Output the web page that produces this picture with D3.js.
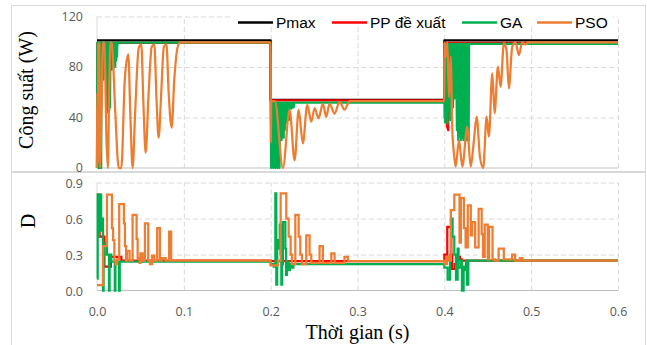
<!DOCTYPE html>
<html>
<head>
<meta charset="utf-8">
<script src="https://cdn.jsdelivr.net/npm/d3@7"></script>
<style>
  body { margin: 0; background: #fff; }
  svg { display: block; }
</style>
</head>
<body>
<svg id="draw-here"></svg>
<script>
// axis ticks
const timeTicks = [0, 0.1, 0.2, 0.3, 0.4, 0.5, 0.6];
const powerTicks = [0, 40, 80, 120];
const dutyTicks = [0, 0.3, 0.6, 0.9];
const seriesNames = ['Pmax', 'PP đề xuất', 'GA', 'PSO'];
const seriesColors = ['#000000', '#ff0000', '#00b050', '#ed7d31'];

// power (W) vs time (s)
const pmaxP = [[0,101],[0.2,101],[0.2,54],[0.4,54],[0.4,101],[0.6,101]];

const ppP = [[0,0],[0.0005,99.2],[0.003,99.2],[0.0035,30],[0.004,99.2],[0.2,99.2],
  [0.2,53.5],[0.2015,53.5],[0.202,34],[0.2025,53.5],[0.4,53.5],
  [0.4,99.2],[0.4005,40],[0.401,99.2],[0.4025,99.2],[0.403,33],[0.4045,30],[0.405,99.2],
  [0.408,99.2],[0.4085,70],[0.409,99.2],[0.6,99.2]];

const gaP = [[0,0],[0.0004,99.3],[0.0008,2],[0.0012,99.3],[0.0016,0],[0.002,99.3],[0.0024,3],
  [0.0028,99.3],[0.0032,0],[0.0036,99.3],[0.004,5],[0.0044,99.3],[0.0048,0],[0.0052,99.3],
  [0.007,99.3],[0.0075,70],[0.008,99.3],[0.0105,99.3],[0.011,45],[0.0115,99.3],[0.012,44],
  [0.0125,99.3],[0.013,46],[0.0135,99.3],[0.014,45],[0.0145,99.3],[0.015,48],[0.0155,99.3],
  [0.016,80],[0.0165,99.3],[0.017,78],[0.0175,99.3],[0.018,80],[0.0185,99.3],[0.019,79],
  [0.0195,99.3],[0.02,82],[0.0205,99.3],[0.021,80],[0.0215,99.3],[0.022,85],[0.0225,99.3],
  [0.023,88],[0.0235,99.3],[0.2,99.3],
  [0.2,51.8],[0.2006,0],[0.2012,51.8],[0.2018,2],[0.2024,51.8],[0.203,0],[0.2036,51.8],
  [0.2042,4],[0.2048,51.8],[0.2054,0],[0.206,51.8],[0.2066,3],[0.2072,51.8],[0.2078,0],
  [0.2084,51.8],[0.209,2],[0.2096,51.8],[0.2102,0],[0.2108,51.8],[0.2114,25],[0.212,51.8],
  [0.2126,22],[0.2132,51.8],[0.2138,28],[0.2144,51.8],[0.215,24],[0.2156,51.8],[0.2162,30],
  [0.2168,51.8],[0.2174,38],[0.218,51.8],[0.2186,36],[0.2192,51.8],[0.2198,40],[0.2204,51.8],
  [0.221,38],[0.2216,51.8],[0.2235,51.8],[0.224,47],[0.2245,51.8],[0.226,51.8],[0.2265,48],
  [0.227,51.8],[0.4,51.8],
  [0.4,98.3],[0.4008,36],[0.4015,98.3],[0.4022,40],[0.403,98.3],[0.4037,35],[0.4045,98.3],
  [0.4053,45],[0.406,98.3],[0.4068,38],[0.4076,98.3],[0.4085,50],[0.4093,98.3],[0.41,48],
  [0.4108,98.3],[0.4116,55],[0.4124,98.3],[0.4135,98.3],[0.4145,30],[0.4152,98.3],[0.416,22],
  [0.4167,98.3],[0.4175,25],[0.4182,98.3],[0.419,22],[0.4197,98.3],[0.4205,24],[0.4212,98.3],
  [0.422,22],[0.4227,98.3],[0.4235,23],[0.4242,98.3],[0.425,22],[0.4257,98.3],[0.4265,22],
  [0.4272,98.3],[0.428,22],[0.4285,98.3],[0.6,98.3]];

// PSO power is drawn smooth, so no two points share a time
const psoP = [[0,0],[0.0005,60],[0.001,3],[0.0015,99.5],[0.002,8],[0.0028,99.5],[0.0035,0],
  [0.005,40],[0.007,99.5],[0.0085,99],[0.011,20],[0.0125,0],[0.014,60],[0.0155,99.5],
  [0.017,99],[0.021,45],[0.025,0],[0.028,0],[0.032,70],[0.036,90],[0.0385,40],[0.041,0],
  [0.044,45],[0.048,95],[0.051,98],[0.0535,50],[0.056,12],[0.0595,60],[0.063,96],[0.066,98],
  [0.0685,55],[0.071,24],[0.074,60],[0.077,96],[0.08,98],[0.0825,60],[0.086,32],[0.089,70],
  [0.093,96],[0.096,99.5],[0.2,99.5],
  [0.2002,20],[0.2007,53],[0.2048,53],[0.2141,0],[0.2218,46],[0.2276,6],[0.2322,46],[0.2371,19.5],
  [0.2421,50],[0.2468,36.7],[0.2506,47.5],[0.2552,39.3],[0.2601,51],[0.264,40.5],[0.2678,51],
  [0.2736,43],[0.2793,52.4],[0.2851,46.3],[0.291,53],[0.4,53],
  [0.4002,99.5],[0.4016,88],[0.4034,99.5],[0.4054,56],[0.4073,88],[0.4092,30],[0.411,12],
  [0.413,1],[0.4169,22],[0.4207,1],[0.4264,32.7],[0.4303,1],[0.4341,22],[0.4372,40.6],
  [0.441,9],[0.4448,0],[0.4487,40.6],[0.4513,24.8],[0.4552,75],[0.4579,43.3],[0.4617,80.3],
  [0.4648,64.4],[0.4686,99],[0.4716,93.5],[0.4743,63],[0.4782,96],[0.482,99.5],[0.4858,89.5],
  [0.4897,99.5],[0.4935,98],[0.497,99.5],[0.6,99.5]];

// duty cycle D vs time (s), each value held until the next point
const ppD = [[0,0.8],[0.003,0.45],[0.0085,0.2],[0.016,0.28],[0.028,0.25],[0.2,0.245],
  [0.4,0.3],[0.4034,0.53],[0.408,0.3],[0.409,0.18],[0.412,0.22],[0.4144,0.28],[0.418,0.26],
  [0.42,0.25],[0.6,0.25]];

const gaD = [[0,0.1],[0.0008,0.8],[0.0015,0.45],[0.0022,0.8],[0.003,0.6],[0.0038,0.8],
  [0.0048,0.5],[0.0062,0.6],[0.0069,0],[0.0076,0.3],[0.0085,0.38],[0.01,0.4],[0.0115,0.3],
  [0.0138,0],[0.0145,0.3],[0.0165,0.24],[0.0205,0],[0.0212,0.24],[0.0255,0],[0.0262,0.24],
  [0.2,0.22],[0.2035,0.2],[0.2054,0.81],[0.2065,0.05],[0.2075,0.42],[0.209,0.35],[0.2105,0.55],
  [0.2115,0.3],[0.2123,0.05],[0.2132,0.22],[0.2141,0.57],[0.2169,0.35],[0.2178,0.13],
  [0.2188,0.24],[0.2205,0.17],[0.2222,0.22],[0.2245,0.19],[0.2262,0.22],
  [0.4,0.19],[0.4038,0.09],[0.4065,0.3],[0.4077,0.6],[0.4095,0.45],[0.4115,0.3],[0.4134,0.09],
  [0.4153,0.35],[0.4164,0.19],[0.4192,0.25],[0.4203,0],[0.4222,0.2],[0.423,0.17],[0.425,0.25],
  [0.4261,0.05],[0.4276,0.25],[0.6,0.25]];

const psoD = [[0,0.045],[0.007,0.37],[0.0115,0.8],[0.0172,0.52],[0.0185,0.42],[0.02,0.25],
  [0.0215,0.22],[0.0232,0.26],[0.0256,0.72],[0.031,0.56],[0.0322,0.37],[0.0335,0.25],
  [0.0345,0.33],[0.0375,0.25],[0.041,0.63],[0.0456,0.43],[0.0468,0.27],[0.049,0.23],
  [0.05,0.31],[0.0525,0.25],[0.0552,0.56],[0.059,0.25],[0.061,0.22],[0.0635,0.29],[0.066,0.25],
  [0.0693,0.52],[0.0724,0.25],[0.0745,0.27],[0.079,0.25],[0.0831,0.49],[0.0854,0.25],
  [0.2,0.21],[0.2085,0.25],[0.2115,0.81],[0.218,0.6],[0.2207,0.45],[0.223,0.3],[0.2245,0.22],
  [0.2284,0.63],[0.2322,0.45],[0.2341,0.3],[0.236,0.22],[0.241,0.46],[0.2448,0.3],[0.2468,0.23],
  [0.2563,0.37],[0.2601,0.23],[0.2698,0.31],[0.2736,0.23],[0.285,0.28],[0.2889,0.245],
  [0.4,0.25],[0.4005,0.22],[0.403,0.28],[0.405,0.25],[0.4075,0.67],[0.4115,0.8],[0.4175,0.4],
  [0.419,0.77],[0.4225,0.52],[0.4245,0.36],[0.427,0.71],[0.4305,0.46],[0.432,0.57],
  [0.4355,0.36],[0.4395,0.68],[0.443,0.47],[0.4445,0.28],[0.4465,0.55],[0.45,0.26],
  [0.4515,0.53],[0.4555,0.26],[0.4585,0.25],[0.4625,0.35],[0.4685,0.26],[0.478,0.3],
  [0.4815,0.25],[0.487,0.27],[0.49,0.25],[0.6,0.25]];

let svg = d3.select('#draw-here')
  .attr('width', 647)
  .attr('height', 345);

// panel frames
svg.append('rect').attr('x', 11.5).attr('y', 5.5).attr('width', 634).attr('height', 166)
  .attr('fill', 'none').attr('stroke', '#d9d9d9');
svg.append('rect').attr('x', 11.5).attr('y', 172.5).attr('width', 634).attr('height', 200)
  .attr('fill', 'none').attr('stroke', '#d9d9d9');

let x = d3.scaleLinear().domain([0, 0.6]).range([97, 618]);
let yP = d3.scaleLinear().domain([0, 120]).range([168, 16.5]);
let yD = d3.scaleLinear().domain([0, 0.9]).range([290.5, 182.5]);

function grid(yScale, yTicks) {
  let top = yScale.range()[1], bottom = yScale.range()[0];
  let gx = svg.append('g')
    .attr('transform', 'translate(0,' + bottom + ')')
    .call(d3.axisBottom(x).tickValues(timeTicks.slice(1)).tickSize(-(bottom - top)).tickFormat(''));
  let gy = svg.append('g')
    .attr('transform', 'translate(' + x(0) + ',0)')
    .call(d3.axisLeft(yScale).tickValues(yTicks.slice(1)).tickSize(-(x(0.6) - x(0))).tickFormat(''));
  [gx, gy].forEach(g => {
    g.select('.domain').remove();
    g.selectAll('line').attr('stroke', '#d9d9d9').attr('stroke-dasharray', '5,3');
  });
  // solid axis lines
  svg.append('line').attr('x1', x(0)).attr('x2', x(0)).attr('y1', top).attr('y2', bottom)
    .attr('stroke', '#d9d9d9');
  svg.append('line').attr('x1', x(0)).attr('x2', x(0.6)).attr('y1', bottom).attr('y2', bottom)
    .attr('stroke', '#bfbfbf');
}
grid(yP, powerTicks);
grid(yD, dutyTicks);

function tickLabels(g) {
  g.select('.domain').remove();
  g.selectAll('text')
    .attr('fill', '#595959')
    .style('font-family', '"Open Sans", sans-serif')
    .style('font-size', '12.5px');
}

svg.append('g').attr('transform', 'translate(' + x(0) + ',-0.5)')
  .call(d3.axisLeft(yP).tickValues(powerTicks).tickSize(0).tickPadding(14).tickFormat(d3.format('d')))
  .call(tickLabels);
svg.append('g').attr('transform', 'translate(' + x(0) + ',1)')
  .call(d3.axisLeft(yD).tickValues(dutyTicks).tickSize(0).tickPadding(14).tickFormat(d3.format('.1f')))
  .call(tickLabels);
svg.append('g').attr('transform', 'translate(0,' + yD(0) + ')')
  .call(d3.axisBottom(x).tickValues(timeTicks).tickSize(0).tickPadding(17).tickFormat(d3.format('.1f')))
  .call(tickLabels);

// series lines
let lineP = d3.line().x(d => x(d[0])).y(d => yP(d[1]));
let smoothP = d3.line().x(d => x(d[0])).y(d => yP(d[1])).curve(d3.curveMonotoneX);
let lineD = d3.line().x(d => x(d[0])).y(d => yD(d[1])).curve(d3.curveStepAfter);

[pmaxP, ppP, gaP, psoP].forEach((s, i) => {
  svg.append('path').datum(s)
    .attr('d', i == 3 ? smoothP : lineP)
    .attr('fill', 'none')
    .attr('stroke', seriesColors[i])
    .attr('stroke-width', 2.25)
    .attr('stroke-linejoin', 'round');
});
[ppD, gaD, psoD].forEach((s, i) => {
  svg.append('path').datum(s)
    .attr('d', lineD)
    .attr('fill', 'none')
    .attr('stroke', seriesColors[i + 1])
    .attr('stroke-width', 2.25);
});

// legend
svg.append('rect').attr('x', 233).attr('y', 12).attr('width', 380).attr('height', 15).attr('fill', '#fff');
let legendX = [238, 332, 462, 537];
seriesNames.forEach((name, i) => {
  svg.append('line')
    .attr('x1', legendX[i]).attr('x2', legendX[i] + 35)
    .attr('y1', 22.5).attr('y2', 22.5)
    .attr('stroke', seriesColors[i]).attr('stroke-width', 2.5);
  svg.append('text')
    .attr('x', legendX[i] + 38).attr('y', 28)
    .style('font-family', '"Liberation Sans", Arial, sans-serif')
    .style('font-size', '15.5px')
    .attr('fill', '#000')
    .text(name);
});

// axis titles
let serif = '"Liberation Serif", "Times New Roman", serif';
svg.append('text')
  .attr('transform', 'translate(33,90) rotate(-90)')
  .attr('text-anchor', 'middle')
  .style('font-family', serif).style('font-size', '20px')
  .text('Công suất (W)');
svg.append('text')
  .attr('transform', 'translate(35,221) rotate(-90)')
  .attr('text-anchor', 'middle')
  .style('font-family', serif).style('font-size', '20px')
  .text('D');
svg.append('text')
  .attr('x', 357.5).attr('y', 339)
  .attr('text-anchor', 'middle')
  .style('font-family', serif).style('font-size', '20px')
  .text('Thời gian (s)');
</script>
</body>
</html>
